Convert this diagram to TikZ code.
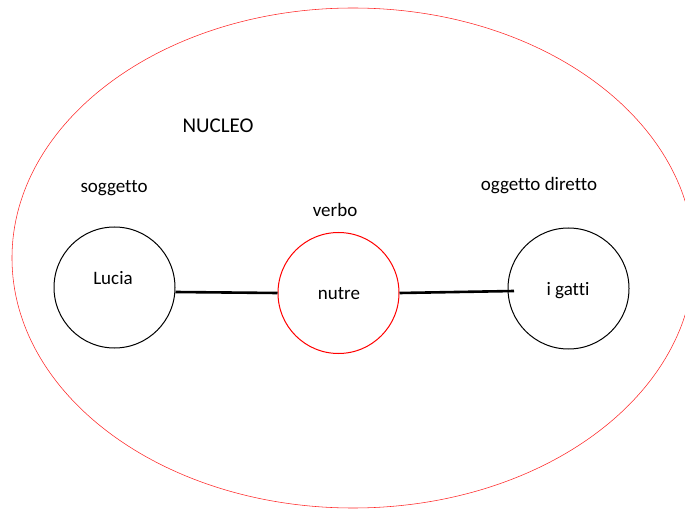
\documentclass[tikz,border=0pt]{standalone}
\usepackage{fontspec}
\setmainfont[Ligatures=NoCommon]{Carlito}
\begin{document}
\begin{tikzpicture}[x=1pt,y=-1pt,
  circ/.style={circle,draw=black,line width=1pt,minimum size=121pt,inner sep=0pt},
  circred/.style={circ,draw=red},
  lbl/.style={inner sep=0pt,font=\fontsize{19}{22}\selectfont},
  conn/.style={line width=2.6pt,black}]
\useasboundingbox (0,0) rectangle (685,510);
\begin{scope}
\clip (0,0) rectangle (685,510);
\draw[red!85,line width=0.55pt] (353,258) ellipse [x radius=341,y radius=250];
\end{scope}
\node[lbl,font=\fontsize{21}{24}\selectfont] (nucleo) at (218,126) {NUCLEO};
\node[lbl] (sogg) at (114,188) {soggetto};
\node[lbl] (verbo) at (335,210) {verbo};
\node[lbl] (ogg) at (539,186) {oggetto diretto};
\node[circ] (lucia) at (114.5,287.5) {};
\node[lbl] at (113,278) {Lucia};
\node[circred] (nutre) at (338.5,293) {};
\node[lbl] at (339,294) {nutre};
\node[circ] (gatti) at (568.5,288.5) {};
\node[lbl] at (568,291) {i gatti};
\coordinate (gin) at (514,291);
\draw[conn] (lucia.east) ++(0,4.5) -- (nutre.west);
\draw[conn] (nutre.east) -- (gin);
\end{tikzpicture}
\end{document}
